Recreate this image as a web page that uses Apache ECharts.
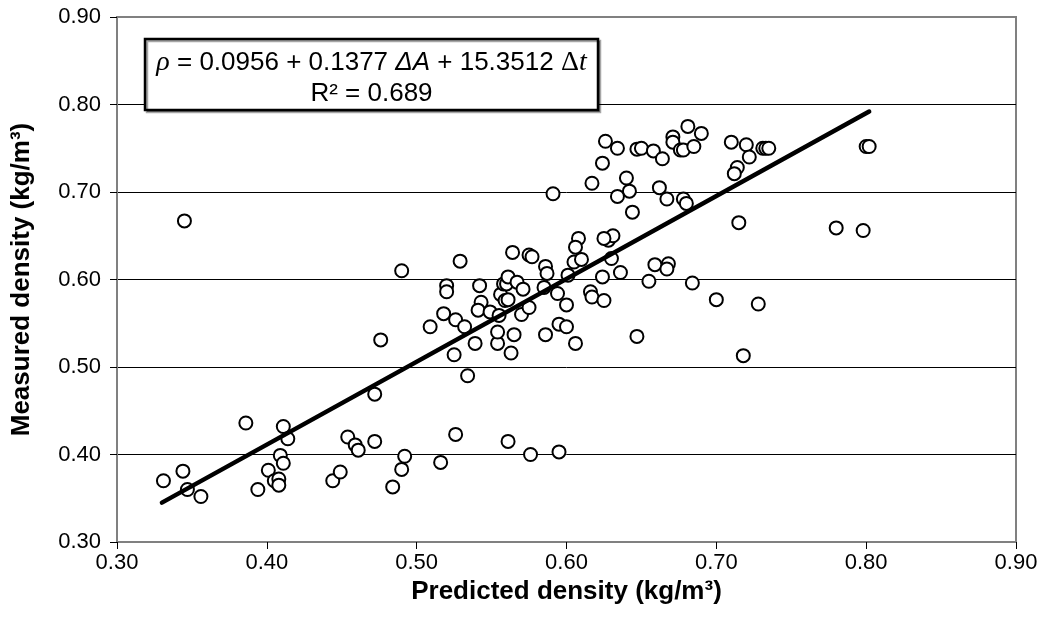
<!DOCTYPE html>
<html>
<head>
<meta charset="utf-8">
<title>Measured vs predicted density</title>
<script src="https://cdn.jsdelivr.net/npm/echarts@6/dist/echarts.min.js"></script>
<style>
  html, body { margin: 0; padding: 0; background: #fff; }
  #chart { width: 1044px; height: 625px; }
</style>
</head>
<body>
<div id="chart"></div>
<script>
// Predicted density (kg/m3) of each specimen
const predicted = [
  0.331, 0.344, 0.347, 0.356, 0.386, 0.394, 0.411, 0.414, 0.409, 0.411,
  0.401, 0.405, 0.408, 0.408, 0.444, 0.449, 0.454, 0.459, 0.461, 0.472,
  0.472, 0.484, 0.490, 0.492, 0.526, 0.561, 0.576, 0.595, 0.516, 0.345,
  0.490, 0.476, 0.525, 0.534, 0.539, 0.554, 0.563, 0.509, 0.518, 0.526,
  0.532, 0.529, 0.520, 0.520, 0.542, 0.543, 0.541, 0.549, 0.555, 0.556,
  0.558, 0.560, 0.561, 0.559, 0.561, 0.567, 0.571, 0.570, 0.575, 0.554,
  0.565, 0.586, 0.595, 0.600, 0.606, 0.564, 0.575, 0.577, 0.586, 0.587,
  0.601, 0.585, 0.594, 0.600, 0.616, 0.617, 0.625, 0.624, 0.636, 0.630,
  0.628, 0.631, 0.625, 0.608, 0.606, 0.605, 0.610, 0.591, 0.617, 0.624,
  0.634, 0.626, 0.647, 0.650, 0.658, 0.664, 0.671, 0.671, 0.676, 0.678,
  0.685, 0.681, 0.690, 0.710, 0.720, 0.722, 0.714, 0.712, 0.731, 0.733,
  0.735, 0.800, 0.802, 0.640, 0.642, 0.634, 0.644, 0.662, 0.667, 0.678,
  0.680, 0.715, 0.780, 0.798, 0.647, 0.718, 0.655, 0.659, 0.668, 0.667,
  0.684, 0.700, 0.728
];

// Measured density (kg/m3) of the same specimens
const measured = [
  0.370, 0.381, 0.360, 0.352, 0.436, 0.360, 0.432, 0.418, 0.399, 0.390,
  0.382, 0.370, 0.372, 0.365, 0.370, 0.380, 0.420, 0.411, 0.405, 0.469,
  0.415, 0.363, 0.383, 0.398, 0.423, 0.415, 0.400, 0.403, 0.391, 0.667,
  0.610, 0.531, 0.514, 0.490, 0.527, 0.527, 0.516, 0.546, 0.561, 0.554,
  0.546, 0.621, 0.593, 0.586, 0.593, 0.574, 0.565, 0.563, 0.559, 0.583,
  0.595, 0.595, 0.603, 0.576, 0.577, 0.597, 0.589, 0.560, 0.568, 0.540,
  0.537, 0.537, 0.549, 0.546, 0.527, 0.631, 0.628, 0.626, 0.615, 0.607,
  0.605, 0.591, 0.584, 0.571, 0.586, 0.580, 0.576, 0.603, 0.608, 0.624,
  0.645, 0.650, 0.647, 0.647, 0.637, 0.620, 0.623, 0.698, 0.710, 0.733,
  0.750, 0.758, 0.749, 0.750, 0.747, 0.738, 0.763, 0.757, 0.748, 0.748,
  0.752, 0.775, 0.767, 0.757, 0.754, 0.740, 0.728, 0.721, 0.750, 0.750,
  0.750, 0.752, 0.752, 0.716, 0.701, 0.695, 0.677, 0.705, 0.692, 0.692,
  0.687, 0.665, 0.659, 0.656, 0.535, 0.513, 0.598, 0.617, 0.618, 0.612,
  0.596, 0.577, 0.572
];

// Fitted trend line, start and end (predicted, measured)
const trendX = [0.330, 0.802];
const trendY = [0.345, 0.792];

// Axis tick values
const axisMin = 0.3;
const axisMax = 0.9;
const axisStep = 0.1;

const points = predicted.map((p, i) => [p, measured[i]]);
const trend = trendX.map((p, i) => [p, trendY[i]]);

const sans = '"Liberation Sans", Arial, sans-serif';
const serif = '"Liberation Serif", "Times New Roman", serif';

const chart = echarts.init(document.getElementById('chart'), null, { renderer: 'canvas' });

const axisCommon = {
  type: 'value',
  min: axisMin,
  max: axisMax,
  interval: axisStep,
  nameLocation: 'middle',
  nameTextStyle: { fontFamily: sans, fontSize: 26, fontWeight: 'bold', color: '#000' },
  axisLine: { show: true, lineStyle: { color: '#808080', width: 2 } },
  axisTick: { show: true, inside: false, length: 7, lineStyle: { color: '#000', width: 1 } },
  axisLabel: {
    fontFamily: sans, fontSize: 22, color: '#000',
    formatter: v => v.toFixed(2)
  }
};

chart.setOption({
  animation: false,
  backgroundColor: '#fff',
  grid: {
    left: 117, right: 28, top: 17, bottom: 83,
    show: true, borderColor: '#808080', borderWidth: 2, backgroundColor: '#fff'
  },
  xAxis: Object.assign({}, axisCommon, {
    name: 'Predicted density (kg/m³)',
    nameGap: 37,
    splitLine: { show: false },
    axisLabel: Object.assign({}, axisCommon.axisLabel, { margin: 10 })
  }),
  yAxis: Object.assign({}, axisCommon, {
    name: 'Measured density (kg/m³)',
    nameGap: 82,
    splitLine: { show: true, showMinLine: false, showMaxLine: false, lineStyle: { color: '#000', width: 1 } },
    axisLabel: Object.assign({}, axisCommon.axisLabel, { margin: 16 })
  }),
  series: [
    {
      type: 'scatter',
      data: points,
      symbol: 'circle',
      symbolSize: 13,
      itemStyle: { color: '#fff', borderColor: '#000', borderWidth: 2, opacity: 1 },
      z: 2
    },
    {
      type: 'line',
      data: trend,
      symbol: 'none',
      lineStyle: { color: '#000', width: 4.5, cap: 'round' },
      z: 3
    }
  ],
  graphic: [
    {
      type: 'rect',
      shape: { x: 145, y: 39, width: 453, height: 71 },
      style: {
        fill: '#fff', stroke: '#000', lineWidth: 2.5,
        shadowColor: 'rgba(0,0,0,0.35)', shadowOffsetX: 2, shadowOffsetY: 2, shadowBlur: 0
      },
      z: 10
    },
    {
      type: 'text',
      x: 371.5, y: 63,
      style: {
        text: '{rho|ρ}{n| = 0.0956 + 0.1377 }{ia|ΔA}{n| + 15.3512 }{d|Δ}{it|t}',
        align: 'center', verticalAlign: 'middle',
        rich: {
          n: { fontFamily: sans, fontSize: 26, fill: '#000' },
          rho: { fontFamily: serif, fontStyle: 'italic', fontSize: 28, fill: '#000' },
          ia: { fontFamily: sans, fontStyle: 'italic', fontSize: 26, fill: '#000' },
          d: { fontFamily: serif, fontSize: 28, fill: '#000' },
          it: { fontFamily: serif, fontStyle: 'italic', fontSize: 28, fill: '#000' }
        }
      },
      z: 11
    },
    {
      type: 'text',
      x: 371.5, y: 94,
      style: {
        text: 'R² = 0.689',
        align: 'center', verticalAlign: 'middle',
        fontFamily: sans, fontSize: 26, fill: '#000'
      },
      z: 11
    }
  ]
});
</script>
</body>
</html>
